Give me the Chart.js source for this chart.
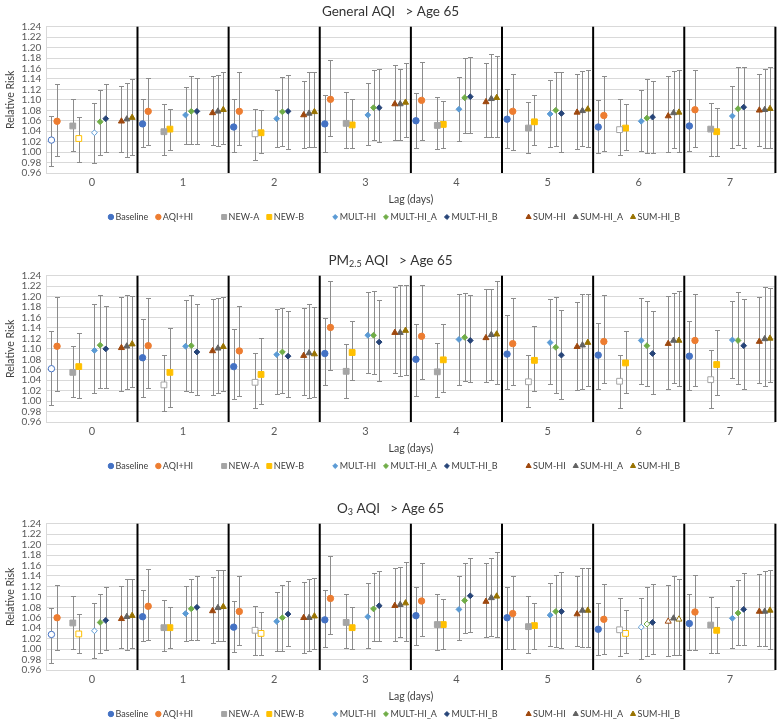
<!DOCTYPE html>
<html>
<head>
<meta charset="utf-8">
<script src="https://cdn.jsdelivr.net/npm/chart.js@4.4.1/dist/chart.umd.min.js"></script>
<style>
  html, body { margin: 0; padding: 0; background: #fff; }
  .panel { position: absolute; left: 0; width: 781px; height: 226px; }
</style>
</head>
<body>
<div class="panel" style="top:0"><canvas id="gen"></canvas></div>
<div class="panel" style="top:249px"><canvas id="pm"></canvas></div>
<div class="panel" style="top:497px"><canvas id="o3"></canvas></div>
<script>
// categories
const lags = [0, 1, 2, 3, 4, 5, 6, 7];
const lagLabels = ["0", "1", "2", "3", "4", "5", "6", "7"];
const seriesNames = ["Baseline", "AQI+HI", "NEW-A", "NEW-B", "MULT-HI", "MULT-HI_A", "MULT-HI_B", "SUM-HI", "SUM-HI_A", "SUM-HI_B"];
const yMin = 0.96, yMax = 1.24, yStep = 0.02;

// General AQI: relative risk and 95% CI, one row per series, one column per lag
const genRR = [
  [1.023, 1.054, 1.048, 1.054, 1.060, 1.063, 1.048, 1.050],
  [1.059, 1.078, 1.078, 1.101, 1.099, 1.078, 1.070, 1.081],
  [1.050, 1.039, 1.035, 1.055, 1.051, 1.046, 1.043, 1.044],
  [1.026, 1.044, 1.037, 1.052, 1.053, 1.058, 1.046, 1.039],
  [1.037, 1.071, 1.064, 1.071, 1.082, 1.073, 1.059, 1.069],
  [1.058, 1.078, 1.077, 1.085, 1.104, 1.080, 1.065, 1.083],
  [1.064, 1.078, 1.078, 1.085, 1.106, 1.074, 1.067, 1.086],
  [1.059, 1.075, 1.071, 1.092, 1.096, 1.076, 1.069, 1.080],
  [1.063, 1.078, 1.074, 1.092, 1.102, 1.079, 1.075, 1.081],
  [1.066, 1.081, 1.077, 1.095, 1.104, 1.082, 1.076, 1.083]
];
const genLo = [
  [0.974, 1.010, 1.000, 1.001, 1.008, 1.008, 0.998, 1.003],
  [0.992, 1.013, 1.013, 1.030, 1.024, 1.004, 1.002, 1.009],
  [1.003, 0.994, 0.985, 1.008, 1.005, 0.999, 0.994, 0.992],
  [0.981, 1.004, 0.998, 1.008, 1.008, 1.013, 1.004, 0.993],
  [0.980, 1.016, 1.009, 1.013, 1.022, 1.010, 1.003, 1.008],
  [0.994, 1.016, 1.012, 1.023, 1.037, 1.011, 0.999, 1.013],
  [1.000, 1.016, 1.006, 1.019, 1.037, 1.000, 0.999, 1.008],
  [1.000, 1.013, 1.008, 1.023, 1.029, 1.006, 1.000, 1.011],
  [0.990, 1.011, 1.009, 1.024, 1.029, 1.011, 1.007, 1.008],
  [0.995, 1.016, 1.009, 1.029, 1.029, 1.009, 1.001, 1.008]
];
const genHi = [
  [1.070, 1.102, 1.101, 1.109, 1.113, 1.121, 1.099, 1.102],
  [1.130, 1.141, 1.153, 1.176, 1.172, 1.150, 1.145, 1.157],
  [1.101, 1.092, 1.082, 1.115, 1.106, 1.096, 1.101, 1.094],
  [1.068, 1.083, 1.080, 1.101, 1.097, 1.109, 1.092, 1.084],
  [1.094, 1.124, 1.119, 1.132, 1.143, 1.138, 1.118, 1.127],
  [1.118, 1.145, 1.143, 1.157, 1.181, 1.153, 1.139, 1.162],
  [1.130, 1.141, 1.148, 1.160, 1.182, 1.153, 1.136, 1.162],
  [1.126, 1.145, 1.137, 1.166, 1.171, 1.149, 1.145, 1.149],
  [1.132, 1.147, 1.153, 1.160, 1.188, 1.155, 1.155, 1.160],
  [1.139, 1.153, 1.153, 1.170, 1.183, 1.157, 1.157, 1.162]
];
// open (non-significant) markers as [lag, series]
const genOpen = [[0, 0], [0, 3], [0, 4], [2, 2], [6, 2]];

// PM2.5 AQI
const pmRR = [
  [1.062, 1.083, 1.066, 1.091, 1.080, 1.090, 1.088, 1.086],
  [1.105, 1.106, 1.096, 1.141, 1.124, 1.110, 1.114, 1.116],
  [1.055, 1.031, 1.036, 1.057, 1.056, 1.037, 1.038, 1.041],
  [1.066, 1.055, 1.051, 1.093, 1.079, 1.078, 1.073, 1.070],
  [1.097, 1.105, 1.089, 1.126, 1.118, 1.112, 1.116, 1.117],
  [1.107, 1.106, 1.094, 1.126, 1.122, 1.103, 1.106, 1.116],
  [1.100, 1.094, 1.086, 1.113, 1.116, 1.088, 1.091, 1.106],
  [1.102, 1.096, 1.087, 1.131, 1.121, 1.104, 1.110, 1.114],
  [1.105, 1.101, 1.092, 1.131, 1.127, 1.107, 1.116, 1.119],
  [1.109, 1.104, 1.090, 1.135, 1.128, 1.112, 1.116, 1.120]
];
const pmLo = [
  [0.993, 1.008, 1.004, 1.030, 1.009, 1.024, 1.024, 1.022],
  [1.019, 1.025, 1.010, 1.060, 1.042, 1.031, 1.034, 1.029],
  [1.007, 0.982, 0.986, 1.006, 1.008, 0.989, 0.987, 0.986],
  [1.005, 0.988, 0.994, 1.040, 1.018, 1.020, 1.015, 1.012],
  [1.015, 1.020, 1.014, 1.053, 1.030, 1.032, 1.033, 1.044],
  [1.025, 1.018, 1.016, 1.051, 1.039, 1.016, 1.029, 1.033],
  [1.025, 1.011, 1.008, 1.039, 1.037, 1.004, 1.013, 1.024],
  [1.019, 1.011, 1.012, 1.054, 1.037, 1.022, 1.024, 1.034],
  [1.023, 1.016, 1.006, 1.048, 1.041, 1.024, 1.035, 1.029],
  [1.027, 1.020, 1.008, 1.050, 1.033, 1.029, 1.029, 1.037]
];
const pmHi = [
  [1.134, 1.157, 1.138, 1.160, 1.147, 1.165, 1.149, 1.154],
  [1.200, 1.197, 1.182, 1.229, 1.223, 1.197, 1.203, 1.205],
  [1.105, 1.088, 1.093, 1.110, 1.112, 1.088, 1.088, 1.097],
  [1.131, 1.140, 1.120, 1.153, 1.148, 1.143, 1.134, 1.136],
  [1.186, 1.194, 1.176, 1.209, 1.205, 1.196, 1.197, 1.191],
  [1.204, 1.204, 1.178, 1.211, 1.207, 1.199, 1.192, 1.208],
  [1.182, 1.185, 1.173, 1.194, 1.203, 1.174, 1.172, 1.195],
  [1.199, 1.195, 1.179, 1.218, 1.215, 1.189, 1.201, 1.199],
  [1.203, 1.197, 1.186, 1.223, 1.214, 1.205, 1.206, 1.218],
  [1.201, 1.199, 1.180, 1.222, 1.229, 1.205, 1.210, 1.216]
];
const pmOpen = [[0, 0], [1, 2], [2, 2], [5, 2], [6, 2], [7, 2]];

// O3 AQI
const o3RR = [
  [1.028, 1.062, 1.042, 1.056, 1.064, 1.060, 1.038, 1.049],
  [1.060, 1.082, 1.072, 1.097, 1.092, 1.068, 1.057, 1.071],
  [1.050, 1.041, 1.036, 1.051, 1.047, 1.043, 1.037, 1.046],
  [1.029, 1.041, 1.030, 1.041, 1.047, 1.045, 1.030, 1.036],
  [1.035, 1.068, 1.053, 1.062, 1.076, 1.065, 1.042, 1.059],
  [1.051, 1.077, 1.060, 1.077, 1.093, 1.072, 1.048, 1.069],
  [1.055, 1.080, 1.067, 1.083, 1.102, 1.072, 1.051, 1.076],
  [1.058, 1.073, 1.060, 1.083, 1.091, 1.067, 1.053, 1.072],
  [1.062, 1.079, 1.060, 1.085, 1.098, 1.074, 1.059, 1.072],
  [1.064, 1.081, 1.063, 1.088, 1.101, 1.074, 1.057, 1.074]
];
const o3Lo = [
  [0.974, 1.016, 0.995, 1.004, 1.008, 1.001, 0.988, 0.998],
  [0.999, 1.018, 1.008, 1.029, 1.025, 1.001, 0.991, 0.999],
  [1.001, 0.996, 0.988, 1.003, 0.999, 0.993, 0.987, 0.992],
  [0.992, 1.003, 0.989, 1.000, 1.001, 1.001, 0.992, 0.993],
  [0.983, 1.015, 0.997, 1.003, 1.018, 1.006, 0.982, 1.002],
  [0.993, 1.018, 0.997, 1.016, 1.030, 1.004, 0.987, 1.007],
  [0.999, 1.018, 1.005, 1.016, 1.033, 1.003, 0.990, 1.008],
  [1.002, 1.011, 0.992, 1.016, 1.024, 1.005, 0.986, 1.006],
  [0.999, 1.016, 0.997, 1.023, 1.025, 1.004, 0.989, 1.006],
  [1.002, 1.016, 1.001, 1.015, 1.023, 1.004, 0.989, 1.001]
];
const o3Hi = [
  [1.079, 1.114, 1.092, 1.113, 1.119, 1.119, 1.088, 1.106],
  [1.122, 1.153, 1.140, 1.178, 1.165, 1.139, 1.124, 1.142],
  [1.101, 1.094, 1.082, 1.106, 1.105, 1.101, 1.097, 1.099],
  [1.067, 1.080, 1.071, 1.080, 1.095, 1.088, 1.074, 1.080],
  [1.089, 1.120, 1.110, 1.126, 1.140, 1.127, 1.098, 1.121],
  [1.106, 1.135, 1.123, 1.146, 1.165, 1.141, 1.118, 1.133],
  [1.119, 1.139, 1.130, 1.150, 1.174, 1.147, 1.124, 1.146],
  [1.120, 1.138, 1.129, 1.155, 1.164, 1.139, 1.123, 1.144],
  [1.134, 1.151, 1.134, 1.157, 1.174, 1.155, 1.139, 1.150],
  [1.135, 1.151, 1.136, 1.166, 1.185, 1.155, 1.135, 1.151]
];
const o3Open = [[0, 0], [0, 3], [0, 4], [2, 2], [2, 3], [6, 2], [6, 3], [6, 4], [6, 5], [6, 7], [6, 9]];

// styling
const FONT = "Lato, 'Liberation Sans', sans-serif";
const colors = ["#4472C4", "#ED7D31", "#A5A5A5", "#FFC000", "#5B9BD5", "#70AD47", "#264478", "#9E480E", "#636363", "#997300"];
const shapes = ["circle", "circle", "rect", "rect", "rectRot", "rectRot", "rectRot", "triangle", "triangle", "triangle"];
const radii = [3.2, 3.2, 4.1, 4.1, 2.9, 2.9, 2.9, 3.5, 3.5, 3.5];
// where each series sits inside its lag band (sixteenths of the band)
const slots = [0.89, 1.88, 4.64, 5.69, 8.44, 9.44, 10.43, 13.18, 14.12, 15.06];
const legendGapAfter = [1, 3, 6];

const decor = {
  id: "decor",
  beforeDatasetsDraw(chart) {
    const { ctx, chartArea: a, scales: { x, y } } = chart;
    ctx.save();
    // error bars
    ctx.strokeStyle = "#8c8c8c";
    ctx.lineWidth = 1;
    chart.data.datasets.forEach((ds, i) => {
      chart.getDatasetMeta(i).data.forEach((pt, j) => {
        const px = Math.round(pt.x) + 0.5;
        const yl = Math.round(y.getPixelForValue(ds.lo[j])) + 0.5;
        const yh = Math.round(y.getPixelForValue(ds.hi[j])) + 0.5;
        ctx.beginPath();
        ctx.moveTo(px, yl); ctx.lineTo(px, yh);
        ctx.moveTo(px - 2.5, yl); ctx.lineTo(px + 2.5, yl);
        ctx.moveTo(px - 2.5, yh); ctx.lineTo(px + 2.5, yh);
        ctx.stroke();
      });
    });
    // lag separators
    ctx.strokeStyle = "#000";
    ctx.lineWidth = 2;
    lags.forEach((lag) => {
      const px = x.getPixelForValue(lag + 0.5);
      ctx.beginPath();
      ctx.moveTo(px, a.top);
      ctx.lineTo(px, a.bottom);
      ctx.stroke();
    });
    ctx.restore();
  },
  afterDraw(chart, args, opts) {
    const ctx = chart.ctx;
    ctx.save();
    // title with optional subscript
    const big = "13.5px " + FONT, small = "9px " + FONT;
    let w = 0;
    opts.title.forEach((p) => { ctx.font = p.sub ? small : big; w += ctx.measureText(p.t).width; });
    let tx = chart.width / 2 - w / 2;
    ctx.fillStyle = "#333";
    ctx.textBaseline = "middle";
    ctx.textAlign = "left";
    opts.title.forEach((p) => {
      ctx.font = p.sub ? small : big;
      ctx.fillText(p.t, tx, p.sub ? 15.5 : 12);
      tx += ctx.measureText(p.t).width;
    });
    // legend
    ctx.font = "9px " + FONT;
    const items = [];
    let lw = 0;
    seriesNames.forEach((name, i) => {
      const tw = ctx.measureText(name).width;
      items.push({ x: lw, tw });
      lw += 7.5 + tw + 7;
      if (legendGapAfter.includes(i)) lw += 21;
    });
    lw -= 7;
    const lx = 394 - lw / 2, ly = 217;
    items.forEach((it, i) => {
      ctx.fillStyle = colors[i];
      ctx.strokeStyle = colors[i];
      ctx.lineWidth = 1;
      Chart.helpers.drawPoint(ctx, { pointStyle: shapes[i], radius: radii[i] * 0.85, rotation: 0, borderWidth: 1 }, lx + it.x + 3, ly);
      ctx.fillStyle = "#404040";
      ctx.fillText(seriesNames[i], lx + it.x + 7.5, ly + 0.5);
    });
    ctx.restore();
  }
};

function makeChart(id, titleParts, rr, lo, hi, open) {
  const isOpen = (lag, s) => open.some((o) => o[0] === lag && o[1] === s);
  const datasets = seriesNames.map((name, s) => ({
    label: name,
    data: lags.map((lag, j) => ({ x: lag - 0.5 + slots[s] / 16, y: rr[s][j] })),
    lo: lo[s],
    hi: hi[s],
    pointStyle: shapes[s],
    pointRadius: radii[s],
    pointHoverRadius: radii[s],
    pointBorderWidth: 1,
    borderColor: colors[s],
    pointBorderColor: colors[s],
    pointBackgroundColor: (ctx) => (isOpen(ctx.dataIndex, s) ? "#ffffff" : colors[s]),
    showLine: false
  }));

  return new Chart(document.getElementById(id), {
    type: "scatter",
    data: { datasets },
    plugins: [decor],
    options: {
      responsive: true,
      maintainAspectRatio: false,
      animation: false,
      layout: { padding: { top: 26.7, left: 4, right: 5.6, bottom: 19.7 } },
      plugins: {
        legend: { display: false },
        tooltip: { enabled: false },
        decor: { title: titleParts }
      },
      scales: {
        x: {
          type: "linear",
          min: -0.5,
          max: 7.5,
          afterBuildTicks: (axis) => { axis.ticks = lags.map((v) => ({ value: v })); },
          ticks: {
            callback: (v) => lagLabels[v],
            color: "#595959",
            font: { family: FONT, size: 11 },
            padding: 3,
            autoSkip: false,
            maxRotation: 0
          },
          grid: { display: false, drawTicks: false },
          border: { display: false },
          title: {
            display: true,
            text: "Lag (days)",
            color: "#404040",
            font: { family: FONT, size: 10.5 },
            padding: { top: 1.5, bottom: 0 }
          }
        },
        y: {
          min: yMin,
          max: yMax,
          ticks: {
            stepSize: yStep,
            autoSkip: false,
            callback: (v) => v.toFixed(2),
            color: "#595959",
            font: { family: FONT, size: 10 },
            padding: 5
          },
          grid: { color: "#d9d9d9", drawTicks: false },
          border: { display: true, color: "#d9d9d9" },
          title: {
            display: true,
            text: "Relative Risk",
            color: "#404040",
            font: { family: FONT, size: 10.5 },
            padding: { top: 0, bottom: 0 }
          }
        }
      }
    }
  });
}

makeChart("gen", [{ t: "General AQI   > Age 65" }], genRR, genLo, genHi, genOpen);
makeChart("pm", [{ t: "PM" }, { t: "2.5", sub: true }, { t: " AQI   > Age 65" }], pmRR, pmLo, pmHi, pmOpen);
makeChart("o3", [{ t: "O" }, { t: "3", sub: true }, { t: " AQI   > Age 65" }], o3RR, o3Lo, o3Hi, o3Open);
</script>
</body>
</html>
